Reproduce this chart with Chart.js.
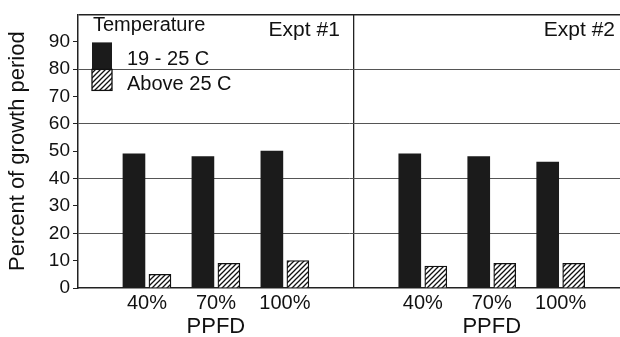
<!DOCTYPE html>
<html lang="en">
<head>
  <meta charset="UTF-8">
  <title>Percent of growth period</title>
  <script src="https://cdn.jsdelivr.net/npm/chart.js"></script>
  <style>
    body { margin: 0; background: #fff; }
    #wrap { width: 620px; height: 337px; }
  </style>
</head>
<body>
  <div id="wrap"><canvas id="growthChart" width="620" height="337"></canvas></div>

  <script>
    // data
    const ppfdLabels = ['40%', '70%', '100%'];
    const exptNames = ['Expt #1', 'Expt #2'];
    const tempNames = ['19 - 25 C', 'Above 25 C'];
    const expt1Normal = [49, 48, 50];
    const expt1Hot = [5, 9, 10];
    const expt2Normal = [49, 48, 46];
    const expt2Hot = [8, 9, 9];

    const FONT = "'Liberation Sans', Arial, sans-serif";
    Chart.defaults.font.family = FONT;
    Chart.defaults.color = '#111';

    // each experiment takes 4 slots on the x scale: gap, 40%, 70%, 100%
    function slot(e, i) { return e * 4 + i + 1; }
    function points(e, vals) {
      return vals.map((v, i) => ({ x: slot(e, i), y: v }));
    }

    // diagonal hatch for the "above 25 C" bars
    function hatch() {
      const c = document.createElement('canvas');
      c.width = 5; c.height = 5;
      const g = c.getContext('2d');
      g.fillStyle = '#fff';
      g.fillRect(0, 0, 5, 5);
      g.strokeStyle = '#111';
      g.lineWidth = 1.3;
      g.beginPath();
      g.moveTo(-1, 6); g.lineTo(6, -1);
      g.moveTo(-1, 1); g.lineTo(1, -1);
      g.moveTo(4, 6); g.lineTo(6, 4);
      g.stroke();
      return g.createPattern(c, 'repeat');
    }
    const hatchFill = hatch();

    const tickLabel = {};
    exptNames.forEach((n, e) => ppfdLabels.forEach((l, i) => { tickLabel[slot(e, i)] = l; }));

    const extraText = {
      id: 'extraText',
      afterDraw(chart) {
        const ctx = chart.ctx;
        const area = chart.chartArea;
        const xs = chart.scales.x;
        const ds = chart.data.datasets;
        ctx.save();
        ctx.fillStyle = '#111';
        ctx.textBaseline = 'middle';

        // experiment names, top right of each panel
        ctx.font = '21px ' + FONT;
        ctx.textAlign = 'right';
        ctx.fillText(exptNames[0], xs.getPixelForValue(4) - 14, area.top + 16);
        ctx.fillText(exptNames[1], area.right - 5, area.top + 16);

        // PPFD under each group
        ctx.textAlign = 'center';
        ctx.font = '22px ' + FONT;
        exptNames.forEach((n, e) => {
          ctx.fillText('PPFD', xs.getPixelForValue(slot(e, 1)), 327);
        });

        // legend block
        const lx = area.left + 14;
        ctx.textAlign = 'left';
        ctx.font = '20px ' + FONT;
        ctx.fillText('Temperature', lx + 1, area.top + 11);
        ctx.fillStyle = ds[0].backgroundColor;
        ctx.fillRect(lx, area.top + 28, 20, 27);
        ctx.fillStyle = ds[1].backgroundColor;
        ctx.fillRect(lx, area.top + 55, 20, 21);
        ctx.strokeStyle = '#111';
        ctx.lineWidth = 1.3;
        ctx.strokeRect(lx, area.top + 55, 20, 21);
        ctx.fillStyle = '#111';
        ctx.fillText(ds[0].label, lx + 35, area.top + 45);
        ctx.fillText(ds[1].label, lx + 35, area.top + 70);
        ctx.restore();
      }
    };

    new Chart(document.getElementById('growthChart'), {
      type: 'bar',
      data: {
        datasets: [
          {
            label: tempNames[0],
            data: points(0, expt1Normal).concat(points(1, expt2Normal)),
            backgroundColor: '#1b1b1b',
            borderWidth: 0
          },
          {
            label: tempNames[1],
            data: points(0, expt1Hot).concat(points(1, expt2Hot)),
            backgroundColor: hatchFill,
            borderColor: '#111',
            borderWidth: 1.3
          }
        ]
      },
      plugins: [extraText],
      options: {
        responsive: false,
        animation: false,
        barThickness: 26,
        maxBarThickness: 22,
        layout: { padding: { top: 12, right: 0, left: 0, bottom: 0 } },
        plugins: {
          legend: { display: false },
          tooltip: { enabled: false }
        },
        scales: {
          x: {
            type: 'linear',
            min: 0,
            max: 7.86,
            offset: false,
            afterBuildTicks(scale) {
              scale.ticks = [1, 2, 3, 4, 5, 6, 7].map(v => ({ value: v }));
            },
            afterFit(scale) { scale.height = 49; },
            ticks: {
              autoSkip: false,
              maxRotation: 0,
              padding: 3,
              font: { size: 20 },
              callback: v => tickLabel[v] || ''
            },
            grid: {
              offset: false,
              drawTicks: false,
              color: c => (c.tick && c.tick.value === 4) ? '#222' : 'rgba(0,0,0,0)',
              lineWidth: 1.3
            },
            border: { color: '#222', width: 1.5 }
          },
          y: {
            min: 0,
            max: 100,
            afterFit(scale) { scale.width = 78; },
            ticks: {
              stepSize: 10,
              padding: 3,
              font: { size: 19 },
              callback: v => v === 100 ? '' : v
            },
            grid: {
              tickLength: 5,
              tickColor: c => (c.tick && c.tick.value === 100) ? 'rgba(0,0,0,0)' : '#222',
              color: c => {
                const v = c.tick ? c.tick.value : -1;
                if (v === 100) return '#222';
                return (v > 0 && v % 20 === 0) ? '#555' : 'rgba(0,0,0,0)';
              },
              lineWidth: c => (c.tick && c.tick.value === 100) ? 1.5 : 1
            },
            border: { color: '#222', width: 1.5 },
            title: {
              display: true,
              text: 'Percent of growth period',
              font: { size: 22 },
              padding: { top: 5, bottom: 0 }
            }
          }
        }
      }
    });
  </script>
</body>
</html>
